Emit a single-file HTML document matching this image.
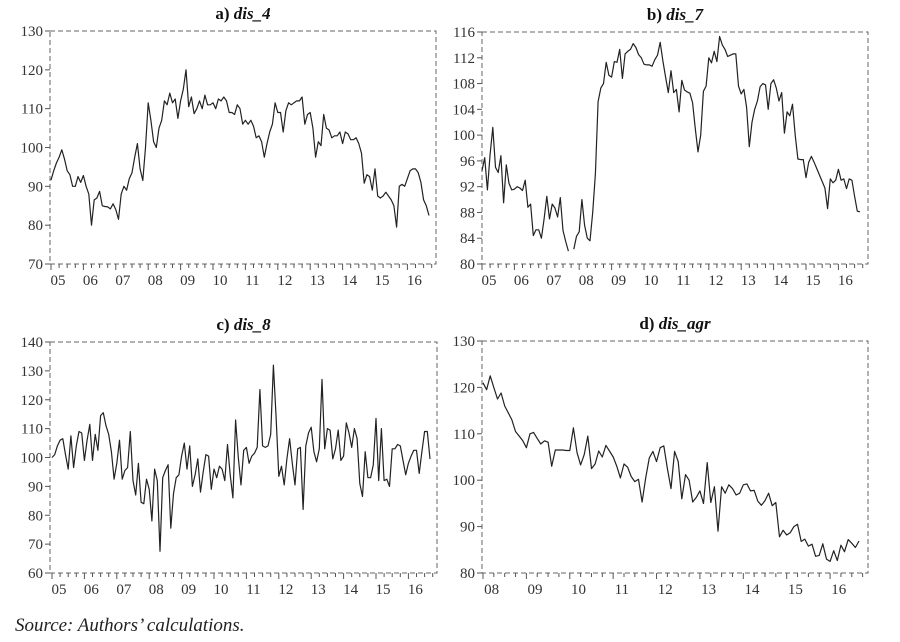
<!DOCTYPE html>
<html><head><meta charset="utf-8"><style>
body{margin:0;background:#fff;width:900px;height:642px;overflow:hidden}
svg{display:block;font-family:"Liberation Serif",serif}
</style></head><body>
<svg id="c" width="900" height="642"></svg>
<script>
const yearsA=["05","06","07","08","09","10","11","12","13","14","15","16"];
const yearsD=["08","09","10","11","12","13","14","15","16"];
const ticksA=[70,80,90,100,110,120,130];
const ticksB=[80,84,88,92,96,100,104,108,112,116];
const ticksC=[60,70,80,90,100,110,120,130,140];
const ticksD=[80,90,100,110,120,130];
const dis4=[91.6,94,96,97.5,99.4,97,94,93,90,90,92.5,91,92.8,90,88,80,86.5,87,88.7,85,84.8,84.7,84.2,85.5,84,81.5,88,90,89,92,93.5,97.5,101,94.5,91.5,100,111.5,107,101.5,100,105,107,112,111,114,111.5,112.5,107.5,112,115,120,110.5,113,108.7,110,112,110,113.5,111,111,111.5,110,112.5,112,113,112,109,109,108.5,111,110,106,107,106,107,105.5,102.5,103,101.5,97.5,101,104,106,111.5,109,109,104,109.5,111.5,111,111.5,112,112,113,106,108.5,109,105,97.5,101.5,100.5,108.5,105,104.5,102.5,103,103,104,101,104,103.5,102,102,102.5,101,98.5,90.8,93,92.5,89,94.5,87.5,87,87.5,88.5,87.5,86.5,85,79.5,90,90.5,90,92,94,94.5,94.5,93.5,91,86.5,85,82.5];
const dis7=[94.5,96.5,91.5,97,101.2,95,94.2,96.8,89.5,95.4,92.5,91.5,91.6,92,91.8,91.4,93,88.8,89.3,84.4,85.3,85.3,84,87,90.5,87,89.3,88.7,87.3,90.3,85.2,83.5,82,null,82.3,84.3,85,90,86,84,83.6,88,94,105.2,107.3,108,111.3,109.3,109,111.4,111.3,113.3,108.8,112.6,113,113.3,114.2,113.6,112.5,112,111,110.9,110.9,110.7,111.7,112.4,114.4,111.5,109,106.6,110,106.6,107.1,103.6,108.5,107,106.7,106.5,105,101,97.4,100,106.8,107.6,112,111.2,113,111.4,115.3,114,113.3,112.2,112.4,112.6,112.6,107.6,106.4,107.1,104.3,98.2,102,104,105.3,107.5,108,107.8,104,108,108.6,107.3,105.3,106.6,100.3,103.6,103,104.8,100,96.3,96.2,96.2,93.4,95.8,96.7,95.8,94.8,93.8,92.8,91.8,88.6,93.2,92.6,93,94.7,93,93.2,91.7,93.2,93,90.5,88.2,88.1];
const dis8=[100,101,104,106,106.5,101,96,107.5,96.5,104,109,108.5,99,106,111.5,99,108,102.5,114.5,115.5,111,108,102,92.5,98,106,92.5,95.5,96.5,109,92,87,98,84.5,84,92.5,89,78,96,92,67.5,93,95.5,97.5,75.5,87.5,93,94,100.5,105,96,104,90,94,99.5,88,95,101,100.5,89,96,93,97,96,92,104.5,94,86,113,100,90.5,102.5,103.5,98,100.5,101.5,103.5,123.5,104,103.5,104,108,132,114,93.5,97,90.5,99.5,106.5,98,90.5,103,103.5,82,104,108.5,110.5,102,98.5,103,127,103,110,109.5,99.5,103,109.5,99,100.5,112,108.5,103.5,110,106.5,91,86.5,102,93,93,97.5,113.5,92,110,92,92.5,90,103,103,104.5,104,99,94,98,100.5,102.5,102.5,94.5,102,109,109,99.5];
const disAgr=[121,119.5,122.5,120,117.5,118.8,116,114.5,113,110.5,109.5,108.5,107,110,110.3,109,107.8,108.5,108.2,103,106.5,106.5,106.5,106.4,106.4,111.3,106,103.3,105.5,109.5,102.5,103.5,106.3,105,107.5,106.3,105,103,100.5,103.5,102.8,100.8,99.7,100.2,95.3,100.5,104.8,106.2,104,107,107.4,102.5,98.2,106.2,104,96,101.2,100,95.3,96.3,97.7,95,103.8,95.2,98.6,89,98.6,97.2,99,98.2,96.8,97.2,99,99.2,97.7,97.8,95.5,94.6,95.6,97.2,94.5,95.2,87.8,89.2,88.2,88.7,90,90.5,86.8,87.3,85.8,86.2,83.6,83.8,86.3,83,82.5,84.8,82.7,86,84.6,87.2,86.4,85.5,86.9];

const NS="http://www.w3.org/2000/svg";
const svg=document.getElementById('c');
function mk(tag,attrs,parent){const e=document.createElementNS(NS,tag);for(const k in attrs)e.setAttribute(k,attrs[k]);(parent||svg).appendChild(e);return e;}

function panel(name,title,italic,box,dx,data,ticks,years,labelOffset){
  const g=mk('g',{});
  
  
  const [L,R,T,B]=box; const ymin=ticks[0], ymax=ticks[ticks.length-1];
  const ys=v=>B-(v-ymin)/(ymax-ymin)*(B-T);
  const step=(dx[1]-dx[0])/(data.length-1);
  const xs=i=>dx[0]+i*step;
  const frame=mk('rect',{x:L,y:T,width:R-L,height:B-T,fill:'none',stroke:'#666','stroke-width':1,'stroke-dasharray':'5,3'},g);
  
  
  const t=mk('text',{x:(L+R)/2,y:T-12,'text-anchor':'middle','font-size':17,'font-weight':'bold',fill:'#111'},g);
  
  
  const t1=mk('tspan',{},t);t1.textContent=title+' ';
  const t2=mk('tspan',{'font-style':'italic'},t);t2.textContent=italic;
  ticks.forEach(v=>{
    const y=ys(v);
    mk('line',{x1:L-5,x2:L,y1:y,y2:y,stroke:'#555'},g);
    const tx=mk('text',{x:L-7,y:y+5,'text-anchor':'end','font-size':15,fill:'#333'},g);
    
    
    tx.textContent=v;
  });
  for(let m=0;m<data.length+3;m+=3){
    const x=xs(m);if(x>R)break;
    mk('line',{x1:x,x2:x,y1:B,y2:B+(m%12===0?6:4),stroke:'#555'},g);
  }
  years.forEach((yr,k)=>{
    const x=xs(k*12+labelOffset);
    const tx=mk('text',{x:x,y:B+21,'text-anchor':'middle','font-size':15,fill:'#333'},g);
    
    
    tx.textContent=yr;
  });
  let d='',pen=false;
  data.forEach((v,i)=>{
    if(v===null){pen=false;return;}
    d+=(pen?'L':'M')+xs(i).toFixed(1)+' '+ys(v).toFixed(1);pen=true;
  });
  const p=mk('path',{d:d,fill:'none',stroke:'#222','stroke-width':1.2,'stroke-linejoin':'round'},g);
  
  
}
panel('panel-dis-4','a)','dis_4',[50,436,31,264],[51,429],dis4,ticksA,yearsA,2.6);
panel('panel-dis-7','b)','dis_7',[482,868,32,264],[482,860],dis7,ticksB,yearsA,2.6);
panel('panel-dis-8','c)','dis_8',[50,437,342,573],[52,430],dis8,ticksC,yearsA,2.6);
panel('panel-dis-agr','d)','dis_agr',[482,868,341,573],[483,859],disAgr,ticksD,yearsD,2.4);
const s=mk('text',{x:15,y:631,'font-size':19,'font-style':'italic',fill:'#222'});


s.textContent='Source: Authors’ calculations.';
</script>
</body></html>
